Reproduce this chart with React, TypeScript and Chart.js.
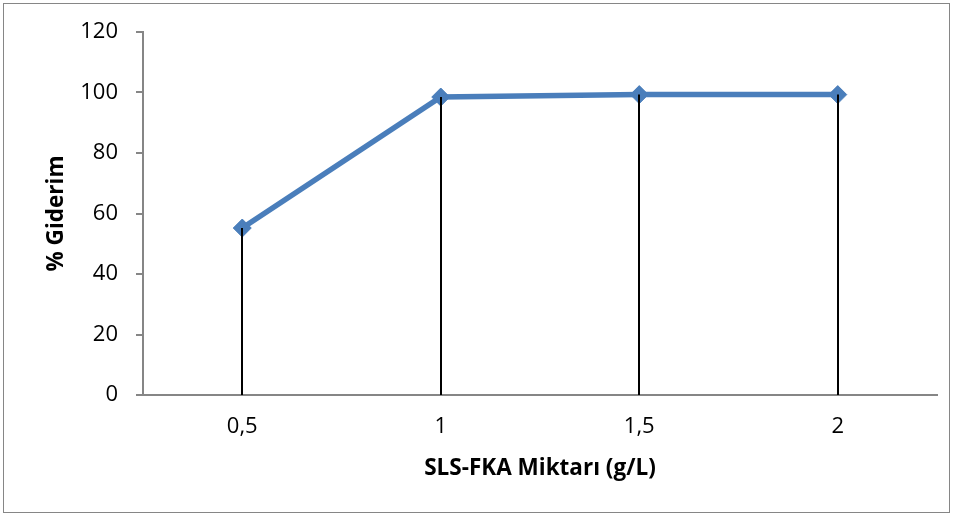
import React, { useEffect, useRef } from "react";
import { Chart, registerables } from "chart.js";

Chart.register(...registerables);

const categories = ["0,5", "1", "1,5", "2"];
const removal = [55.2, 98.5, 99.3, 99.3];
const yTicks = [0, 20, 40, 60, 80, 100, 120];
const yTitle = "% Giderim";
const xTitle = "SLS-FKA Miktarı (g/L)";

const FONT = "'Open Sans', sans-serif";
const BLUE = "#4a7ebb";
const GRAY = "#868686";

const dropLines = {
  id: "dropLines",
  afterDatasetsDraw(chart: any) {
    const { ctx, chartArea } = chart;
    const meta = chart.getDatasetMeta(0);
    ctx.save();
    ctx.strokeStyle = "#000";
    ctx.lineWidth = 2;
    meta.data.forEach((pt: any) => {
      const x = Math.round(pt.x);
      ctx.beginPath();
      ctx.moveTo(x, pt.y);
      ctx.lineTo(x, chartArea.bottom);
      ctx.stroke();
    });
    ctx.restore();
  },
};

const frame = {
  id: "frame",
  beforeDraw(chart: any) {
    const { ctx } = chart;
    ctx.save();
    ctx.fillStyle = "#fff";
    ctx.fillRect(0, 0, chart.width, chart.height);
    ctx.strokeStyle = GRAY;
    ctx.lineWidth = 1;
    ctx.strokeRect(3.5, 3.5, 946, 509);
    ctx.restore();
  },
};

export default function App() {
  const ref = useRef<HTMLCanvasElement | null>(null);
  useEffect(() => {
    if (!ref.current) return;
    const chart = new Chart(ref.current, {
      type: "line",
      data: {
        labels: categories,
        datasets: [
          {
            data: removal,
            borderColor: BLUE,
            backgroundColor: BLUE,
            borderWidth: 5.5,
            pointStyle: "rectRot",
            pointRadius: 9,
            pointBackgroundColor: BLUE,
            pointBorderColor: BLUE,
            pointBorderWidth: 1,
            tension: 0,
          },
        ],
      },
      options: {
        responsive: false,
        animation: false,
        devicePixelRatio: 1,
        layout: { padding: { top: 32, right: 16, bottom: 0, left: 0 } },
        plugins: { legend: { display: false }, tooltip: { enabled: false } },
        scales: {
          x: {
            type: "category",
            offset: true,
            grid: { display: true, drawOnChartArea: false, drawTicks: false, color: GRAY },
            border: { color: GRAY, width: 2 },
            ticks: { color: "#000", font: { family: FONT, size: 22 }, padding: 19, maxRotation: 0 },
            title: {
              display: true,
              text: xTitle,
              color: "#000",
              font: { family: FONT, size: 22.5, weight: "bold" },
              padding: { top: 0, bottom: 35 },
            },
            afterFit(scale: any) {
              scale.height = 122;
            },
          },
          y: {
            min: 0,
            max: 120,
            afterBuildTicks(scale: any) {
              scale.ticks = yTicks.map((v) => ({ value: v }));
            },
            grid: { drawOnChartArea: false, drawTicks: true, tickLength: 7, color: GRAY, lineWidth: 2 },
            border: { color: GRAY, width: 2 },
            ticks: { color: "#000", font: { family: FONT, size: 22 }, padding: 18 },
            title: {
              display: true,
              text: yTitle,
              color: "#000",
              font: { family: FONT, size: 22.5, weight: "bold" },
              padding: { top: 43, bottom: 0 },
            },
            afterFit(scale: any) {
              scale.width = 143;
            },
          },
        },
      },
      plugins: [frame, dropLines],
    });
    return () => chart.destroy();
  }, []);
  return (
    <div style={{ position: "fixed", left: 0, top: 0, width: 953, height: 517, background: "#fff" }}>
      <canvas ref={ref} width={953} height={517} style={{ display: "block" }} />
    </div>
  );
}
